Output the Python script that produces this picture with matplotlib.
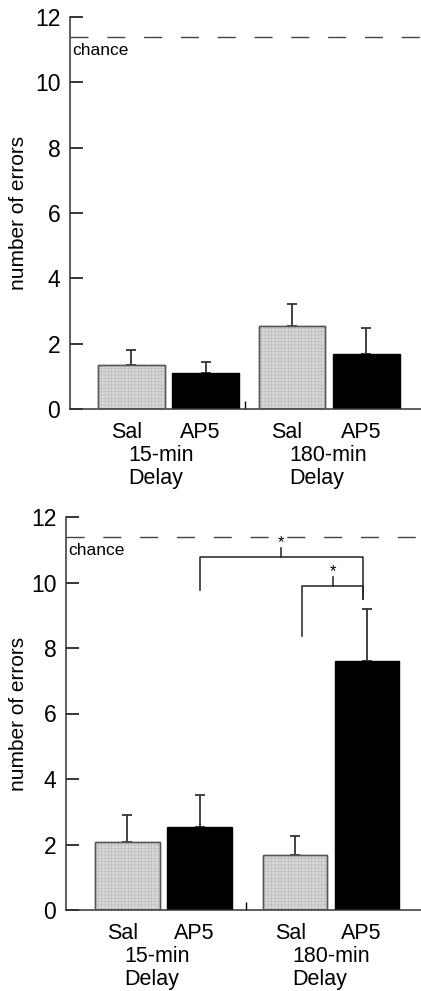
import numpy as np
import matplotlib
matplotlib.use('Agg')
from matplotlib import pyplot as plt
from matplotlib import transforms

plt.rcParams['font.family'] = ['Liberation Sans', 'DejaVu Sans']
plt.rcParams['lines.scale_dashes'] = False
plt.rcParams['hatch.linewidth'] = 0.4

# data
drugs = ['Sal', 'AP5', 'Sal', 'AP5']
delays = ['15-min\nDelay', '180-min\nDelay']
chance = 11.4

top_means = [1.34, 1.10, 2.55, 1.68]
top_sem = [0.46, 0.33, 0.65, 0.80]

bot_means = [2.07, 2.53, 1.68, 7.60]
bot_sem = [0.83, 0.97, 0.58, 1.59]

# significance brackets in bottom panel: (left bar, right bar, bar height, left leg, right leg)
brackets = [(1, 3, 10.78, 9.77, 9.5),
            (2, 3, 9.90, 8.37, 9.5)]

W, H = 421, 991
fig = plt.figure(figsize=(W / 100, H / 100), dpi=100)

light = '#d8d8d8'


def panel(rect, xpos, width, xlim, midtick, means, sem):
    ax = fig.add_axes(rect)
    xpos = np.array(xpos)
    colors = [light, 'black', light, 'black']
    edges = ['#555555', 'black', '#555555', 'black']
    ax.errorbar(xpos, means, yerr=[np.zeros(4), sem], fmt='none', ecolor='#333333',
                elinewidth=1.3, capsize=3.5, capthick=1.3, zorder=1)
    ax.bar(xpos, means, width=width, color=colors, edgecolor=edges, linewidth=1.0, zorder=2)
    # fine texture on the saline bars
    ax.bar(xpos[[0, 2]], np.array(means)[[0, 2]], width=width, color='none',
           edgecolor='#b8b8b8', linewidth=0, hatch='+++++', zorder=2.5)
    ax.bar(xpos[[0, 2]], np.array(means)[[0, 2]], width=width, color='none',
           edgecolor='#555555', linewidth=1.0, zorder=3)

    ax.axhline(chance, color='#444444', lw=1.0, dashes=(13, 13.5), zorder=0)
    ax.text(xlim[0] + 0.03, chance - 0.2, 'chance', fontsize=12.5, va='top', ha='left')

    ax.set_xlim(*xlim)
    ax.set_ylim(0, 12)
    ax.set_yticks([0, 2, 4, 6, 8, 10, 12])
    ax.tick_params(axis='y', direction='in', length=9, width=1.1, pad=7, labelsize=16.5)
    ax.set_xticks([])
    ax.set_xticks([midtick], minor=True)
    ax.tick_params(axis='x', which='minor', direction='in', length=6, width=1.0)
    for s in ['top', 'right']:
        ax.spines[s].set_visible(False)
    for s in ['left', 'bottom']:
        ax.spines[s].set_linewidth(1.1)
        ax.spines[s].set_color('#333333')
    ax.set_ylabel('number of errors', fontsize=15)

    tr = transforms.blended_transform_factory(ax.transData, ax.transAxes)
    for x, d in zip(xpos, drugs):
        ax.annotate(d, xy=(x - 0.07, 0), xycoords=tr, xytext=(0, -21), textcoords='offset points',
                    ha='center', va='baseline', fontsize=15.5)
    for x, g in zip(xpos[[0, 2]], delays):
        ax.annotate(g, xy=(x - 0.04, 0), xycoords=tr, xytext=(0, -26), textcoords='offset points',
                    ha='left', va='top', fontsize=15.5, linespacing=1.1)
    return ax, xpos


ax1, xp1 = panel([70 / W, 1 - 409 / H, 351 / W, 392 / H], [0, 1, 2.17, 3.17], 0.9,
                 (-0.83, 3.91), 1.53, top_means, top_sem)
ax1.yaxis.set_label_coords(-0.12, 0.5)

ax2, xp2 = panel([66 / W, 1 - 910 / H, 355 / W, 393 / H], [0, 1, 2.33, 3.32], 0.89,
                 (-0.854, 4.076), 1.65, bot_means, bot_sem)
ax2.yaxis.set_label_coords(-0.107, 0.5)

for i, j, top, lleg, rleg in brackets:
    xl = xp2[i] + (0.1 if i == 2 else 0)
    xr = xp2[j] - 0.05
    ax2.plot([xl, xl, xr, xr], [lleg, top, top, rleg], color='#222222', lw=1.1, zorder=4)
    xm = (xl + xr) / 2
    ax2.plot([xm, xm], [top, top + 0.27], color='#222222', lw=1.1, zorder=4)
    ax2.text(xm, top + 0.2, '*', ha='center', va='bottom', fontsize=12)

fig.savefig('out.png', dpi=100)
